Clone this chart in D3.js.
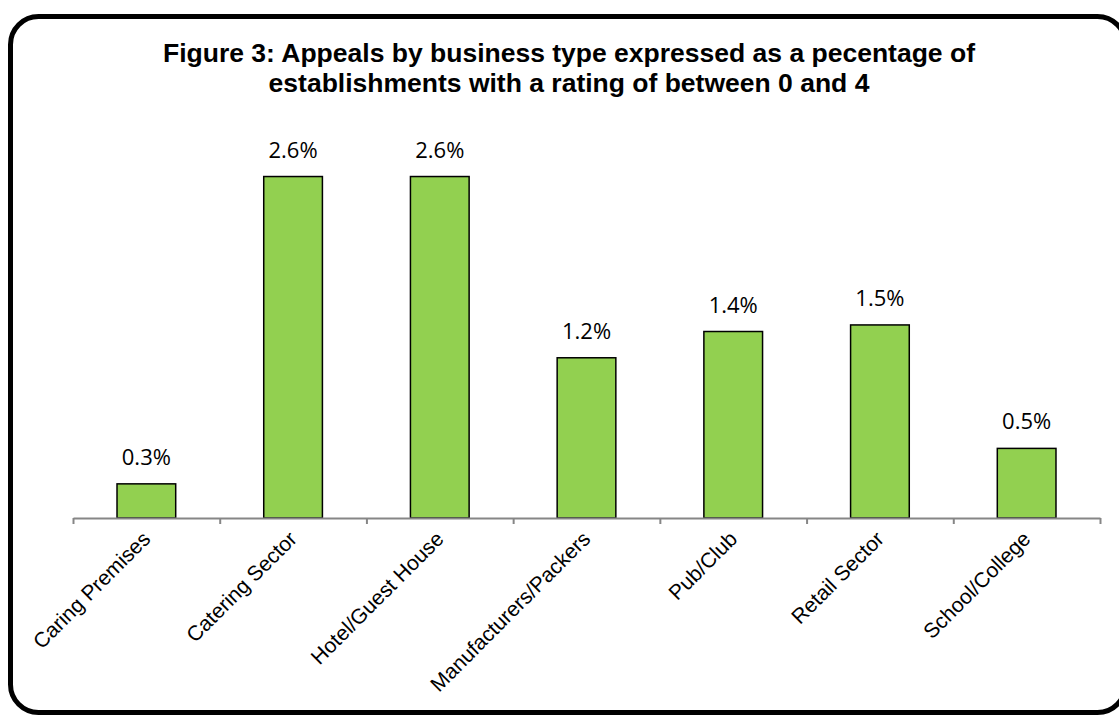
<!DOCTYPE html>
<html>
<head>
<meta charset="utf-8">
<script src="https://cdnjs.cloudflare.com/ajax/libs/d3/7.8.5/d3.min.js"></script>
<style>
  body { margin: 0; background: #fff; }
  svg { display: block; }
</style>
</head>
<body>
<div id="chart"></div>
<script>
// data (bar heights; labels are the rounded values)
const categories = ["Caring Premises", "Catering Sector", "Hotel/Guest House",
  "Manufacturers/Packers", "Pub/Club", "Retail Sector", "School/College"];
const values = [0.26, 2.6, 2.6, 1.22, 1.42, 1.47, 0.53];
const titleLines = ["Figure 3: Appeals by business type expressed as a pecentage of",
  "establishments with a rating of between 0 and 4"];

const svgWidth = 1119,
  svgHeight = 715;

const svg = d3.select("#chart")
  .append("svg")
  .attr("width", svgWidth)
  .attr("height", svgHeight);

// rounded frame
svg.append("rect")
  .attr("x", 10.5)
  .attr("y", 16.5)
  .attr("width", 1115)
  .attr("height", 696)
  .attr("rx", 28)
  .attr("fill", "#fff")
  .attr("stroke", "#000")
  .attr("stroke-width", 5);

// title
svg.append("g")
  .selectAll("text")
  .data(titleLines)
  .enter()
  .append("text")
  .attr("x", 569)
  .attr("y", (d, i) => 62 + i * 30)
  .attr("text-anchor", "middle")
  .style("font-family", "'Liberation Sans', Arial, sans-serif")
  .style("font-weight", "bold")
  .style("font-size", "26.5px")
  .text(d => d);

const x0 = 73, x1 = 1100, baseY = 518;

const xScale = d3.scaleBand()
  .domain(categories)
  .range([x0, x1])
  .paddingInner(0.6)
  .paddingOuter(0.3);

const yScale = d3.scaleLinear()
  .domain([0, 3])
  .range([baseY, baseY - 394]);

// bars
svg.append("g")
  .selectAll("rect")
  .data(values)
  .enter()
  .append("rect")
  .attr("x", (d, i) => xScale(categories[i]))
  .attr("y", d => yScale(d))
  .attr("width", xScale.bandwidth())
  .attr("height", d => baseY - yScale(d))
  .attr("fill", "#92d050")
  .attr("stroke", "#000")
  .attr("stroke-width", 1.5);

// value labels
svg.append("g")
  .selectAll("text")
  .data(values)
  .enter()
  .append("text")
  .attr("x", (d, i) => xScale(categories[i]) + xScale.bandwidth() / 2)
  .attr("y", d => yScale(d) - 19)
  .attr("text-anchor", "middle")
  .style("font-family", "'Open Sans', sans-serif")
  .style("font-size", "22px")
  .attr("fill", "#000")
  .text(d => d.toFixed(1) + "%");

// axis line with ticks on category boundaries
const edgeScale = d3.scaleLinear().domain([0, categories.length]).range([x0, x1]);
const tickAxis = svg.append("g")
  .attr("transform", `translate(0, ${baseY})`)
  .call(d3.axisBottom(edgeScale)
    .tickValues(d3.range(categories.length + 1))
    .tickSize(6)
    .tickSizeOuter(0)
    .tickFormat(""));
tickAxis.select(".domain").attr("stroke", "#868686").attr("stroke-width", 2);
tickAxis.selectAll(".tick line").attr("stroke", "#868686").attr("stroke-width", 2);

// category labels, rotated
const labelAxis = svg.append("g")
  .attr("transform", `translate(0, ${baseY})`)
  .call(d3.axisBottom(xScale).tickSize(0).tickSizeOuter(0));
labelAxis.select(".domain").remove();
labelAxis.selectAll("text")
  .attr("x", 0)
  .attr("y", 0)
  .attr("dy", "0.35em")
  .attr("text-anchor", "end")
  .attr("transform", "translate(0, 17) rotate(-45)")
  .style("font-family", "'Liberation Sans', Arial, sans-serif")
  .style("font-size", "21px")
  .attr("fill", "#000");
</script>
</body>
</html>
